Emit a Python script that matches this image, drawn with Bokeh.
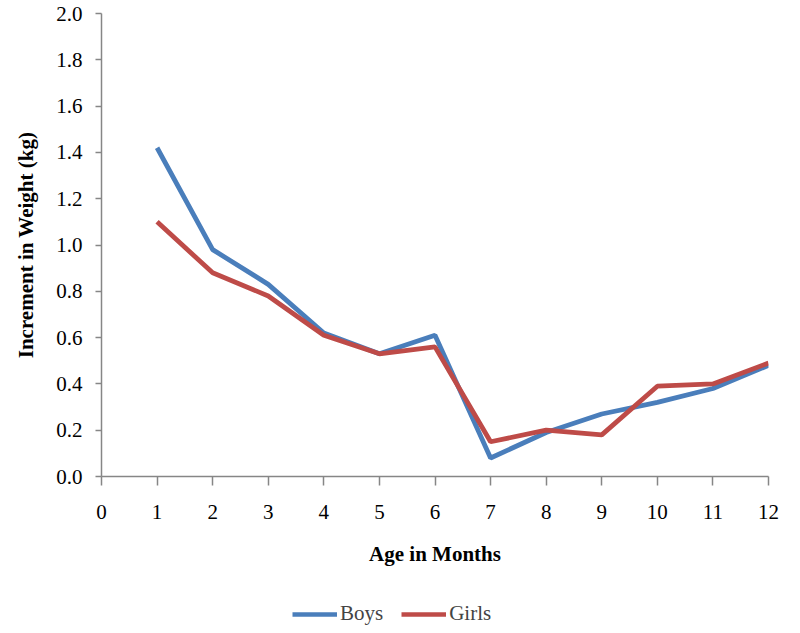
from bokeh.plotting import figure
from bokeh.layouts import column
from bokeh.models import Range1d, FixedTicker, Legend, LegendItem, CustomJSTickFormatter
from bokeh.embed import file_html
from bokeh.resources import INLINE

months = [1, 2, 3, 4, 5, 6, 7, 8, 9, 10, 11, 12]
boys = [1.42, 0.98, 0.83, 0.62, 0.53, 0.61, 0.08, 0.19, 0.27, 0.32, 0.38, 0.48]
girls = [1.10, 0.88, 0.78, 0.61, 0.53, 0.56, 0.15, 0.20, 0.18, 0.39, 0.40, 0.49]
x_ticks = list(range(0, 13))
y_ticks = [0.0, 0.2, 0.4, 0.6, 0.8, 1.0, 1.2, 1.4, 1.6, 1.8, 2.0]

FONT = "Liberation Serif"
AXIS_C = "#868686"
BOYS_C = "#4A7EBB"
GIRLS_C = "#BE4B48"

p = figure(width=784, height=576, output_backend="svg", toolbar_location=None,
           x_range=Range1d(0, 12), y_range=Range1d(0, 2.0),
           min_border_left=101, min_border_right=16, min_border_top=13,
           min_border_bottom=100)
p.outline_line_color = None
p.xgrid.visible = False
p.ygrid.visible = False

p.line(months, boys, line_color=BOYS_C, line_width=4.8)
p.line(months, girls, line_color=GIRLS_C, line_width=4.8)

for ax in (p.xaxis[0], p.yaxis[0]):
    ax.axis_line_color = AXIS_C
    ax.axis_line_width = 1.5
    ax.major_tick_line_color = AXIS_C
    ax.major_tick_line_width = 1.5
    ax.minor_tick_line_color = None
    ax.major_tick_in = 0
    ax.major_label_text_font = FONT
    ax.major_label_text_font_size = "21px"
    ax.major_label_text_color = "#000000"
    ax.axis_label_text_font = FONT
    ax.axis_label_text_font_style = "bold"
    ax.axis_label_text_font_size = "21px"
    ax.axis_label_text_color = "#000000"

p.xaxis.ticker = FixedTicker(ticks=x_ticks)
p.yaxis.ticker = FixedTicker(ticks=y_ticks)
p.yaxis.formatter = CustomJSTickFormatter(code="return tick.toFixed(1);")
p.xaxis.major_tick_out = 9
p.yaxis.major_tick_out = 6
p.xaxis.major_label_standoff = 19
p.yaxis.major_label_standoff = 13
p.xaxis.axis_label = "Age in Months"
p.yaxis.axis_label = "Increment in Weight (kg)"
p.xaxis.axis_label_standoff = 20
p.yaxis.axis_label_standoff = 15

# legend strip below the chart (its frame is aligned with the chart frame)
q = figure(width=784, height=50, output_backend="svg", toolbar_location=None,
           x_range=Range1d(100, 101), y_range=Range1d(0, 1),
           x_axis_type=None, y_axis_type=None,
           min_border_left=0, min_border_right=0, min_border_top=0, min_border_bottom=0)
q.outline_line_color = None
q.xgrid.visible = False
q.ygrid.visible = False
lb = q.line(months, boys, line_color=BOYS_C, line_width=4.5)
lg = q.line(months, girls, line_color=GIRLS_C, line_width=4.5)
legend = Legend(items=[LegendItem(label="Boys", renderers=[lb]),
                       LegendItem(label="Girls", renderers=[lg])],
                orientation="horizontal", location=(191, 0),
                label_text_font=FONT, label_text_font_size="21px",
                glyph_width=45, glyph_height=20, spacing=18,
                label_standoff=3, border_line_color=None,
                background_fill_alpha=0,
                margin=0, padding=0)
q.add_layout(legend)

layout = column(p, q, spacing=0)
open("out.html", "w").write(file_html(layout, INLINE))
